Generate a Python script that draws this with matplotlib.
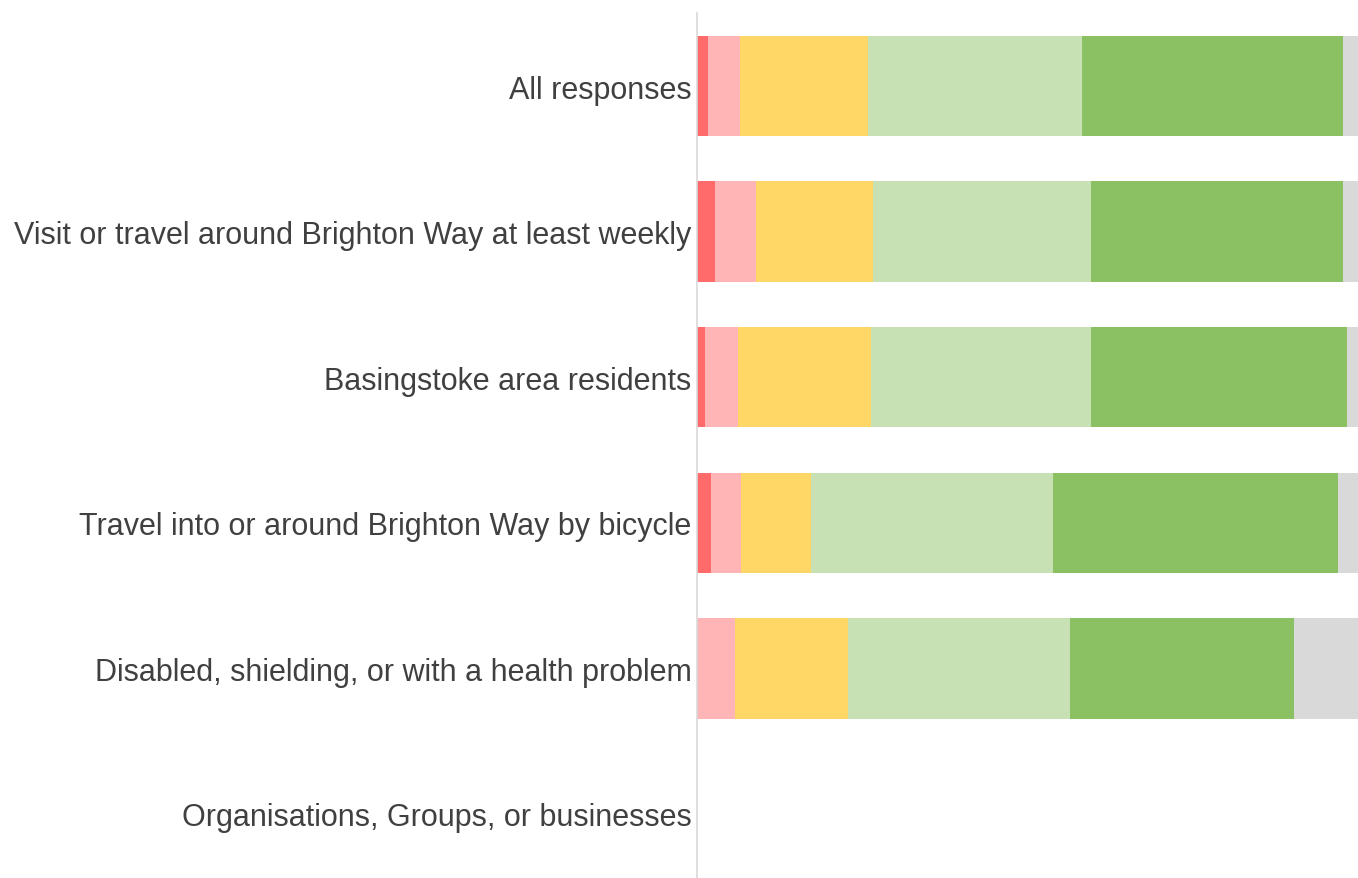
import matplotlib
matplotlib.use("Agg")
import matplotlib.pyplot as plt
import numpy as np

categories = [
    "All responses",
    "Visit or travel around Brighton Way at least weekly",
    "Basingstoke area residents",
    "Travel into or around Brighton Way by bicycle",
    "Disabled, shielding, or with a health problem",
    "Organisations, Groups, or businesses",
]
strongly_disagree = [1.7, 2.7, 1.2, 2.1, 0.0, 0.0]
disagree = [4.8, 6.2, 5.0, 4.5, 5.7, 0.0]
neutral = [19.3, 17.7, 20.1, 10.7, 17.1, 0.0]
agree = [32.4, 33.0, 33.3, 36.5, 33.6, 0.0]
strongly_agree = [39.6, 38.1, 38.7, 43.1, 33.9, 0.0]
dont_know = [2.2, 2.3, 1.7, 3.1, 9.7, 0.0]

series = [strongly_disagree, disagree, neutral, agree, strongly_agree, dont_know]
colors = ["#FF6B6B", "#FFB4B6", "#FFD766", "#C7E0B4", "#8BC163", "#D9D9D9"]

plt.rcParams['font.family'] = ['Liberation Sans', 'DejaVu Sans']
fig = plt.figure(figsize=(13.58, 8.79), dpi=100)
ax = fig.add_axes([697/1358, 0.0, 1 - 697/1358, 1 - 14/879])

y = np.arange(len(categories))
left = np.zeros(len(categories))
for vals, c in zip(series, colors):
    ax.barh(y, vals, left=left, height=0.69, color=c, edgecolor='none')
    left += np.array(vals)

ax.set_xlim(0, 100)
ax.set_ylim(5.44, -0.502)
ax.set_yticks(y)
ax.set_yticklabels(categories, fontsize=22, color='#404040')
ax.tick_params(axis='y', length=0, pad=4)
ax.set_xticks([])
for s in ['top', 'right', 'bottom']:
    ax.spines[s].set_visible(False)
ax.spines['left'].set_color('#D9D9D9')
ax.spines['left'].set_linewidth(1.2)

fig.savefig("out.png", dpi=100)
